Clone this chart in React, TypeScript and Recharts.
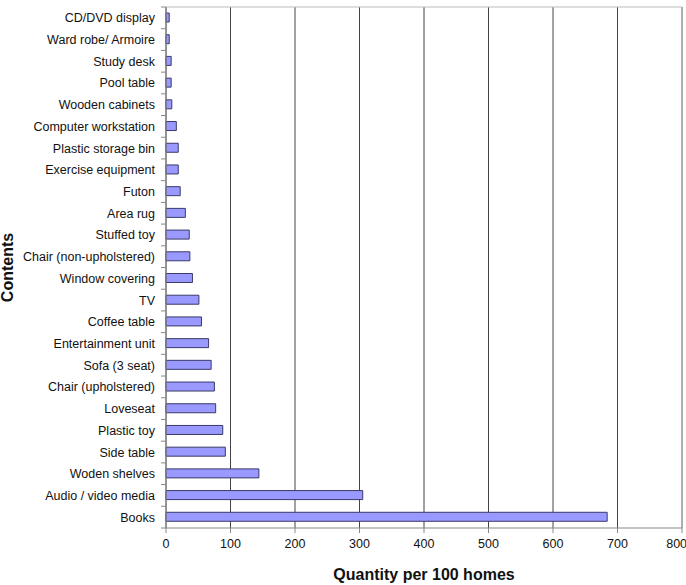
import React from 'react'
import {
  BarChart,
  Bar,
  XAxis,
  YAxis,
  CartesianGrid,
  ReferenceLine,
} from 'recharts'

// categories, top to bottom
const categories = [
  'CD/DVD display',
  'Ward robe/ Armoire',
  'Study desk',
  'Pool table',
  'Wooden cabinets',
  'Computer workstation',
  'Plastic storage bin',
  'Exercise equipment',
  'Futon',
  'Area rug',
  'Stuffed toy',
  'Chair (non-upholstered)',
  'Window covering',
  'TV',
  'Coffee table',
  'Entertainment unit',
  'Sofa (3 seat)',
  'Chair (upholstered)',
  'Loveseat',
  'Plastic toy',
  'Side table',
  'Woden shelves',
  'Audio / video media',
  'Books',
]

const quantities = [
  5, 5, 8, 8, 9, 16, 19, 19, 22, 30, 36, 37, 41, 51, 55, 66, 70, 75, 77, 88, 92, 144, 305, 684,
]

const xTicks = [0, 100, 200, 300, 400, 500, 600, 700, 800]

const data = categories.map((name, i) => ({ name, value: quantities[i] }))

const FONT = '"Liberation Sans", Arial, sans-serif'

// category tick: label at band centre, tick mark at band boundary (Excel style)
const CategoryTick = (props: any) => {
  const { x, y, payload } = props
  const half = payload && typeof payload.offset === 'number' ? payload.offset : 0
  return (
    <g>
      <line x1={x + 6} x2={x + 11} y1={y + half} y2={y + half} stroke="#888" />
      {payload.index === 0 && (
        <line x1={x + 6} x2={x + 11} y1={y - half} y2={y - half} stroke="#888" />
      )}
      <text
        x={x}
        y={y}
        dy={4.5}
        textAnchor="end"
        fontSize={12.5}
        fontFamily={FONT}
        fill="#111"
      >
        {payload.value}
      </text>
    </g>
  )
}

export default function App() {
  return (
    <div style={{ position: 'absolute', left: 0, top: 0, background: '#fff' }}>
      <BarChart
        width={686}
        height={585}
        data={data}
        layout="vertical"
        margin={{ top: 7, right: 4, left: 0, bottom: 0 }}
        barCategoryGap={0}
      >
        <CartesianGrid horizontal={false} stroke="#444" />
        <CartesianGrid
          vertical={false}
          stroke="#bbb"
          horizontalCoordinatesGenerator={({ offset }: any) => [offset.top]}
        />
        <ReferenceLine x={800} stroke="#bbb" />
        <XAxis
          type="number"
          domain={[0, 800]}
          ticks={xTicks}
          height={57}
          stroke="#888"
          tickSize={5}
          tickMargin={6}
          tick={{ fontSize: 12.5, fontFamily: FONT, fill: '#111' }}
          label={{
            value: 'Quantity per 100 homes',
            position: 'insideBottom',
            offset: 5,
            style: { fontSize: 16, fontWeight: 'bold', fontFamily: FONT, fill: '#111' },
          }}
        />
        <YAxis
          type="category"
          dataKey="name"
          width={166}
          stroke="#888"
          tickLine={false}
          tickSize={0}
          tickMargin={11}
          interval={0}
          tick={<CategoryTick />}
          label={{
            value: 'Contents',
            angle: -90,
            position: 'center',
            dx: -76,
            style: { fontSize: 16, fontWeight: 'bold', fontFamily: FONT, fill: '#111' },
          }}
        />
        <Bar
          dataKey="value"
          fill="#9999ff"
          stroke="#3a3a6a"
          strokeWidth={1}
          barSize={9}
          isAnimationActive={false}
        />
      </BarChart>
    </div>
  )
}
